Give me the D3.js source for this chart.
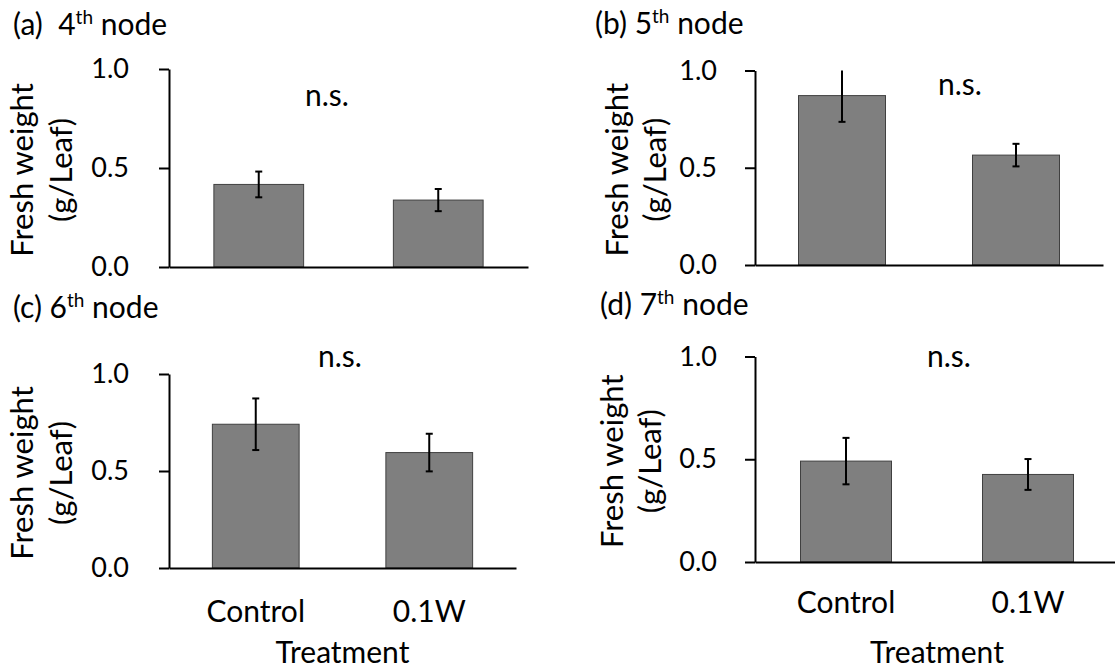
<!DOCTYPE html>
<html>
<head>
<meta charset="utf-8">
<script src="https://cdn.jsdelivr.net/npm/d3@7"></script>
<style>
  body { margin: 0; background: #fff; }
  svg { display: block; font-family: Lato, "Open Sans", sans-serif; }
</style>
</head>
<body>
<svg width="1115" height="668"></svg>
<script>
// data
var panelTags = ["(a)  ", "(b) ", "(c) ", "(d) "];
var nodeNums = ["4", "5", "6", "7"];
var categories = ["Control", "0.1W"];
var controlMean = [0.417, 0.871, 0.741, 0.491];
var controlErr = [0.065, 0.135, 0.133, 0.113];
var wMean = [0.338, 0.565, 0.595, 0.426];
var wErr = [0.056, 0.058, 0.097, 0.075];
var yTicks = [0, 0.5, 1.0];
var yTitle = ["Fresh weight", "(g/Leaf)"];
var xTitle = "Treatment";
var sigLabel = "n.s.";

// panel placement
var layout = [
  { x0: 169, x1: 528, y0: 267, y1: 69, tx: 13, ty: 35, nsx: 327, nsy: 106, yt: [33, 72], pad: 30, cat: false },
  { x0: 755, x1: 1103, y0: 265, y1: 70.5, tx: 595, ty: 34, nsx: 960, nsy: 95, yt: [628, 666], pad: 28, cat: false },
  { x0: 169, x1: 516, y0: 568, y1: 374, tx: 13, ty: 318, nsx: 340, nsy: 367, yt: [33, 72], pad: 30, cat: true, catY: 54 },
  { x0: 755, x1: 1119, y0: 562, y1: 356.5, tx: 600, ty: 315, nsx: 949, nsy: 367, yt: [623, 661], pad: 28, cat: true, catY: 51 }
];

var svg = d3.select("svg");

layout.forEach(function(L, i) {
  var data = [
    { cat: categories[0], mean: controlMean[i], err: controlErr[i] },
    { cat: categories[1], mean: wMean[i], err: wErr[i] }
  ];

  var x = d3.scaleBand()
    .domain(categories)
    .range([L.x0, L.x1])
    .paddingInner(0.5)
    .paddingOuter(0.25);

  var y = d3.scaleLinear()
    .domain([0, 1])
    .range([L.y0, L.y1]);

  var g = svg.append("g");

  // bars
  g.selectAll("rect.bar")
    .data(data)
    .enter().append("rect")
    .attr("class", "bar")
    .attr("x", function(d) { return x(d.cat); })
    .attr("width", x.bandwidth())
    .attr("y", function(d) { return y(d.mean); })
    .attr("height", function(d) { return y(0) - y(d.mean); })
    .attr("fill", "#7f7f7f")
    .attr("stroke", "#404040")
    .attr("stroke-width", 1);

  // error bars (clipped at the axis top)
  var eb = g.selectAll("g.err")
    .data(data)
    .enter().append("g")
    .attr("class", "err")
    .attr("stroke", "#000")
    .attr("stroke-width", 2);

  eb.append("line")
    .attr("x1", function(d) { return x(d.cat) + x.bandwidth() / 2; })
    .attr("x2", function(d) { return x(d.cat) + x.bandwidth() / 2; })
    .attr("y1", function(d) { return y(Math.min(1, d.mean + d.err)); })
    .attr("y2", function(d) { return y(d.mean - d.err); });

  eb.append("line")
    .attr("x1", function(d) { return x(d.cat) + x.bandwidth() / 2 - 3.5; })
    .attr("x2", function(d) { return x(d.cat) + x.bandwidth() / 2 + 3.5; })
    .attr("y1", function(d) { return y(d.mean - d.err); })
    .attr("y2", function(d) { return y(d.mean - d.err); });

  eb.filter(function(d) { return d.mean + d.err <= 1; })
    .append("line")
    .attr("x1", function(d) { return x(d.cat) + x.bandwidth() / 2 - 3.5; })
    .attr("x2", function(d) { return x(d.cat) + x.bandwidth() / 2 + 3.5; })
    .attr("y1", function(d) { return y(d.mean + d.err); })
    .attr("y2", function(d) { return y(d.mean + d.err); });

  // y axis
  var ya = g.append("g")
    .attr("transform", "translate(" + L.x0 + ",0)")
    .call(d3.axisLeft(y).tickValues(yTicks).tickFormat(d3.format(".1f"))
      .tickSize(10).tickSizeOuter(0).tickPadding(L.pad));
  ya.selectAll("path, line").attr("stroke", "#000").attr("stroke-width", 2);
  ya.selectAll("text")
    .attr("fill", "#000")
    .style("font-family", "Lato")
    .style("font-size", "27px");

  // x axis
  var xa = g.append("g")
    .attr("transform", "translate(0," + L.y0 + ")")
    .call(d3.axisBottom(x).tickSize(0).tickSizeOuter(0)
      .tickFormat(L.cat ? null : function() { return ""; }));
  xa.selectAll("path").attr("stroke", "#000").attr("stroke-width", 2);
  xa.selectAll("text")
    .attr("dy", null)
    .attr("y", L.catY || 0)
    .attr("fill", "#000")
    .style("font-family", "Lato")
    .style("font-size", "30px");

  if (L.cat) {
    g.append("text")
      .attr("x", (L.x0 + L.x1) / 2)
      .attr("y", 663)
      .attr("text-anchor", "middle")
      .style("font-size", "30px")
      .text(xTitle);
  }

  // y title
  var yc = (L.y0 + L.y1) / 2 + 2;
  yTitle.forEach(function(t, k) {
    g.append("text")
      .attr("transform", "translate(" + L.yt[k] + "," + yc + ") rotate(-90)")
      .attr("text-anchor", "middle")
      .style("font-size", "31px")
      .text(t);
  });

  // panel title
  var title = g.append("text")
    .attr("x", L.tx)
    .attr("y", L.ty)
    .style("font-size", "30px")
    .style("white-space", "pre");
  title.append("tspan").text(panelTags[i] + nodeNums[i]);
  title.append("tspan").attr("dy", -11).style("font-size", "19px").text("th");
  title.append("tspan").attr("dy", 11).text(" node");

  // significance
  g.append("text")
    .attr("x", L.nsx)
    .attr("y", L.nsy)
    .attr("text-anchor", "middle")
    .style("font-size", "30px")
    .text(sigLabel);
});
</script>
</body>
</html>
